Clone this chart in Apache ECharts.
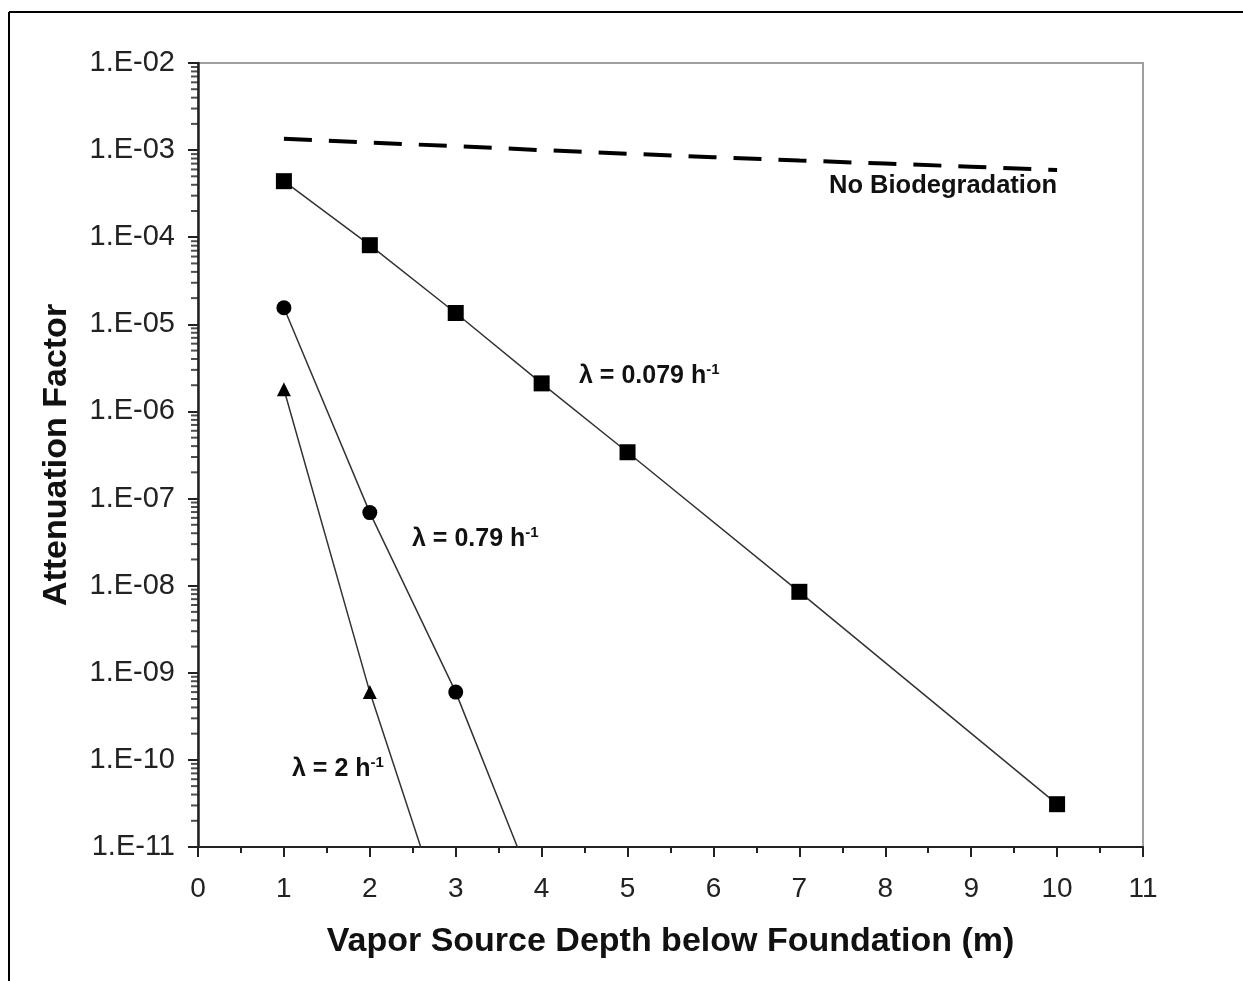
<!DOCTYPE html>
<html>
<head>
<meta charset="utf-8">
<script src="https://cdn.jsdelivr.net/npm/echarts@6/dist/echarts.min.js"></script>
<style>
html,body{margin:0;padding:0;background:#fff;}
#chart{width:1243px;height:981px;}
</style>
</head>
<body>
<div id="chart"></div>
<script>
// Data
const depths = [1, 2, 3, 4, 5, 6, 7, 8, 9, 10];
const noBioValues = [1.35e-3, 1.22e-3, 1.11e-3, 1.0e-3, 9.1e-4, 8.3e-4, 7.6e-4, 7.0e-4, 6.45e-4, 5.9e-4];
const lam0079Depths = [1, 2, 3, 4, 5, 7, 10];
const lam0079Values = [4.4e-4, 8.1e-5, 1.35e-5, 2.1e-6, 3.4e-7, 8.5e-9, 3.1e-11];
const lam079Depths = [1, 2, 3, 4];
const lam079Values = [1.55e-5, 6.9e-8, 6.0e-10, 2.0e-12];
const lam2Depths = [1, 2, 3];
const lam2Values = [1.8e-6, 6.0e-10, 6.0e-13];
const yDecades = [-11, -10, -9, -8, -7, -6, -5, -4, -3];
const yMinorMultipliers = [2, 3, 4, 5, 6, 7, 8, 9];
const xTitle = 'Vapor Source Depth below Foundation (m)';
const yTitle = 'Attenuation Factor';

// minor tick values of the log axis (2..9 within each decade)
const yMinorTickValues = [];
yDecades.forEach(function (e) {
  yMinorMultipliers.forEach(function (k) { yMinorTickValues.push(k * Math.pow(10, e)); });
});

function pairs(xs, ys) { return xs.map(function (x, i) { return [x, ys[i]]; }); }
function fmtExp(v) {
  const e = Math.round(Math.log10(v));
  const a = Math.abs(e);
  return '1.E' + (e < 0 ? '-' : '+') + (a < 10 ? '0' + a : '' + a);
}

const FONT = '"Liberation Sans", Arial, sans-serif';
const chart = echarts.init(document.getElementById('chart'));
const lineStyle = { color: '#333', width: 1.5 };
const supRich = function (txt) {
  return {
    text: '{m|' + txt + '}{s|-1}', fill: '#111',
    rich: {
      m: { font: 'bold 25px ' + FONT, fill: '#111', verticalAlign: 'bottom' },
      s: { font: 'bold 15px ' + FONT, fill: '#111', verticalAlign: 'top', padding: [0, 0, 12, 0] }
    }
  };
};

chart.setOption({
  animation: false,
  backgroundColor: '#fff',
  grid: { left: 198, right: 100, top: 63, bottom: 134, show: true, borderColor: '#a0a0a0', borderWidth: 2, backgroundColor: 'transparent' },
  xAxis: {
    type: 'value', min: 0, max: 11, interval: 1,
    name: xTitle, nameLocation: 'middle', nameGap: 78,
    nameTextStyle: { fontFamily: FONT, fontSize: 34, fontWeight: 'bold', color: '#111' },
    axisLine: { show: true, onZero: false, lineStyle: { color: '#222', width: 2 } },
    axisTick: { show: true, inside: false, length: 10, lineStyle: { color: '#222', width: 2 } },
    minorTick: { show: true, splitNumber: 2, length: 6, lineStyle: { color: '#222', width: 2 } },
    axisLabel: { margin: 28, fontFamily: FONT, fontSize: 28, color: '#222' },
    splitLine: { show: false }
  },
  yAxis: {
    type: 'log', logBase: 10, min: 1e-11, max: 1e-2, splitNumber: 9,
    name: yTitle, nameLocation: 'middle', nameGap: 124,
    nameTextStyle: { fontFamily: FONT, fontSize: 34, fontWeight: 'bold', color: '#111' },
    axisLine: { show: true, onZero: false, lineStyle: { color: '#222', width: 2.5 } },
    axisTick: { show: true, inside: false, length: 10, lineStyle: { color: '#222', width: 2 } },
    axisLabel: { margin: 23, fontFamily: FONT, fontSize: 29, color: '#222', formatter: fmtExp },
    splitLine: { show: false }
  },
  series: [
    {
      name: 'minor ticks', type: 'scatter', silent: true, clip: false, z: 5,
      data: yMinorTickValues.map(function (v) { return [0, v]; }),
      symbol: 'rect', symbolSize: [7, 2], symbolOffset: [-3.5, 0],
      itemStyle: { color: '#222' }
    },
    {
      name: 'No Biodegradation', type: 'line',
      data: pairs(depths, noBioValues), symbol: 'none',
      lineStyle: { color: '#000', width: 4, type: [28, 17] }, z: 3
    },
    {
      name: 'λ = 0.079', type: 'line',
      data: pairs(lam0079Depths, lam0079Values),
      symbol: 'rect', symbolSize: 16, itemStyle: { color: '#000' }, lineStyle: lineStyle, clip: true
    },
    {
      name: 'λ = 0.79', type: 'line',
      data: pairs(lam079Depths, lam079Values),
      symbol: function (v) { return v[1] >= 1e-11 ? 'circle' : 'none'; }, symbolSize: 15,
      itemStyle: { color: '#000' }, lineStyle: lineStyle, clip: true
    },
    {
      name: 'λ = 2', type: 'line',
      data: pairs(lam2Depths, lam2Values),
      symbol: function (v) { return v[1] >= 1e-11 ? 'triangle' : 'none'; }, symbolSize: 14,
      itemStyle: { color: '#000' }, lineStyle: lineStyle, clip: true
    }
  ],
  graphic: [
    { type: 'line', shape: { x1: 9, y1: 12, x2: 1243, y2: 12 }, style: { stroke: '#000', lineWidth: 2 }, silent: true },
    { type: 'line', shape: { x1: 9, y1: 12, x2: 9, y2: 981 }, style: { stroke: '#000', lineWidth: 2 }, silent: true },
    { type: 'text', left: 829, top: 173, style: { text: 'No Biodegradation', font: 'bold 25.5px ' + FONT, fill: '#111' } },
    { type: 'text', left: 579, top: 362, style: supRich('λ = 0.079 h') },
    { type: 'text', left: 412, top: 525, style: supRich('λ = 0.79 h') },
    { type: 'text', left: 292, top: 755, style: supRich('λ = 2 h') }
  ]
});
</script>
</body>
</html>
